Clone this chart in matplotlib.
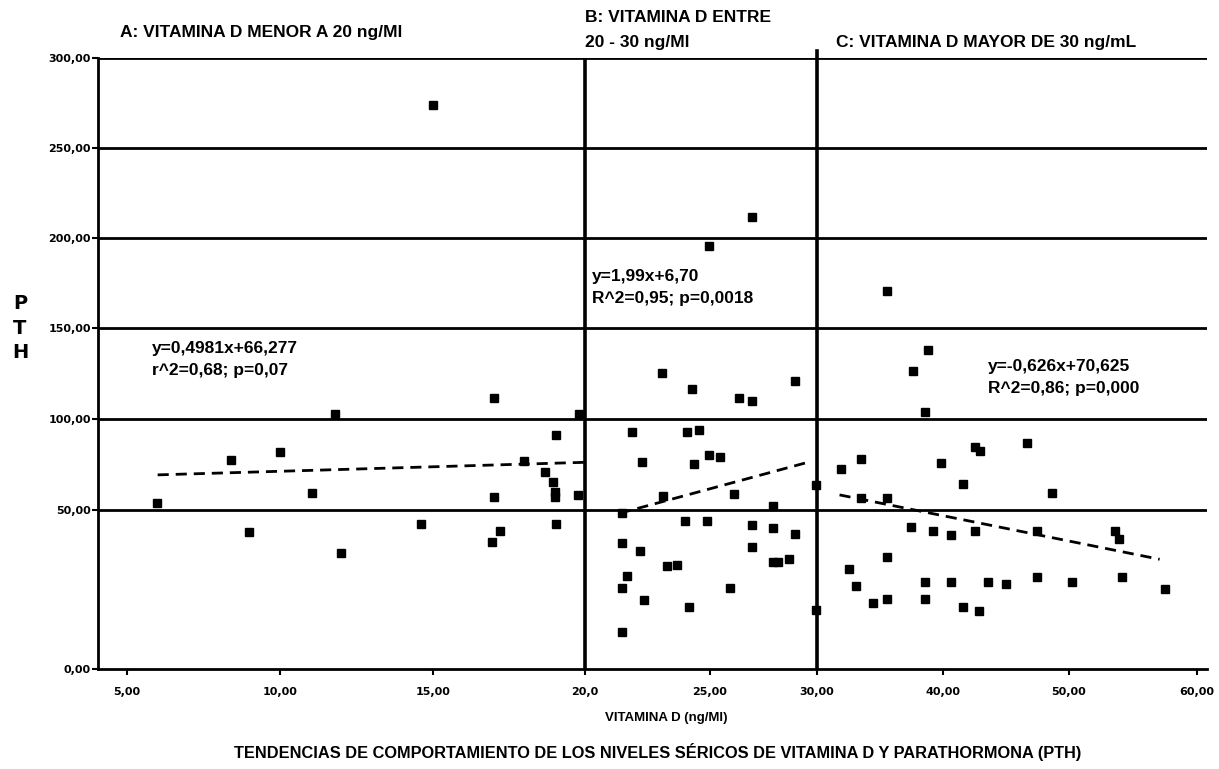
import numpy as np
import matplotlib
matplotlib.use("Agg")
import matplotlib.pyplot as plt

# ---------------- data ----------------
# Group A: vitamin D < 20 ng/ml
vitd_a = [5.98, 8.4, 10.0, 11.05, 11.8, 9.0, 12.0, 14.6, 17.0, 17.0, 17.2, 16.95,
          18.0, 19.05, 18.7, 18.95, 19.0, 19.0, 19.05, 19.76, 19.8, 15.0]
pth_a = [53.9, 77.7, 82.0, 59.4, 102.5, 43.1, 36.5, 45.6, 111.4, 57.2, 43.4, 40.0,
         77.0, 91.0, 71.0, 65.5, 60.0, 57.2, 45.6, 58.3, 102.5, 274.0]

# Group B: vitamin D 20 - 30 ng/ml
vitd_b = [23.1, 24.3, 26.36, 26.95, 28.97, 21.88, 24.08, 24.56, 22.28, 24.36, 24.96,
          25.47, 23.12, 26.12, 27.94, 21.48, 24.0, 24.88, 26.96, 27.94, 29.0, 26.96,
          21.48, 22.2, 23.28, 23.68, 27.94, 28.18, 28.69, 21.68, 21.48, 25.93, 22.36,
          24.16, 21.48, 29.95, 29.95, 24.96, 26.96]
pth_b = [125.2, 116.4, 111.4, 109.7, 120.8, 93.1, 93.1, 93.7, 76.5, 75.4, 80.4,
         79.3, 57.7, 58.8, 52.2, 49.0, 46.5, 46.5, 45.3, 44.3, 42.5, 38.4,
         39.6, 37.1, 32.4, 32.7, 33.6, 33.6, 34.6, 29.2, 25.5, 25.5, 21.7,
         19.5, 11.6, 63.8, 18.6, 195.5, 211.5]

# Group C: vitamin D > 30 ng/ml
vitd_c = [35.56, 38.8, 37.6, 38.57, 46.67, 42.54, 42.94, 33.5, 31.9, 39.84, 41.59,
          48.65, 33.5, 35.56, 37.46, 39.2, 40.63, 42.54, 47.5, 53.6, 53.9, 35.56,
          32.54, 33.1, 38.57, 40.63, 43.57, 45.0, 47.5, 50.23, 54.14, 57.5, 34.44,
          35.56, 38.57, 41.59, 42.86]
pth_c = [170.6, 138.0, 126.3, 103.6, 87.0, 84.8, 82.6, 78.2, 72.7, 76.0, 64.4,
         59.4, 56.6, 56.6, 44.7, 43.4, 42.1, 43.4, 43.4, 43.4, 40.9, 35.2,
         31.4, 26.1, 27.4, 27.4, 27.4, 26.7, 28.9, 27.4, 28.9, 25.2, 20.8,
         22.0, 22.0, 19.5, 18.2]

# Trend lines (end points)
trend_a_x = [6.0, 20.0]
trend_a_y = [69.3, 76.2]
trend_b_x = [21.4, 29.7]
trend_b_y = [49.0, 76.6]
trend_c_x = [31.8, 57.1]
trend_c_y = [58.3, 34.5]

x_ticks = [5, 10, 15, 20, 25, 30, 40, 50, 60]
x_tick_labels = ["5,00", "10,00", "15,00", "20,0", "25,00", "30,00", "40,00", "50,00", "60,00"]
y_ticks = [0, 50, 100, 150, 200, 250, 300]
y_tick_labels = ["0,00", "50,00", "100,00", "150,00", "200,00", "250,00", "300,00"]

eq_a = ["y=0,4981x+66,277", "r^2=0,68; p=0,07"]
eq_b = ["y=1,99x+6,70", "R^2=0,95; p=0,0018"]
eq_c = ["y=-0,626x+70,625", "R^2=0,86; p=0,000"]

# ---------------- axis scale knots (layout) ----------------
X_KNOT_VAL = [5, 10, 15, 20, 25, 30, 40, 50, 60]
X_KNOT_PIX = [127, 280, 433, 585, 710, 817, 943, 1069, 1197]
Y_KNOT_VAL = [0, 50, 100, 150, 200, 250, 300]
Y_KNOT_PIX = [0, 159, 250, 341, 431, 521, 611]


def piecewise(d, p):
    d = np.asarray(d, float)
    p = np.asarray(p, float)

    def f(v, a=d, b=p):
        v = np.asarray(v, float)
        out = np.interp(v, a, b)
        out = np.where(v < a[0], b[0] + (v - a[0]) * (b[1] - b[0]) / (a[1] - a[0]), out)
        out = np.where(v > a[-1], b[-1] + (v - a[-1]) * (b[-1] - b[-2]) / (a[-1] - a[-2]), out)
        return out

    def g(u):
        return f(u, p, d)
    return f, g


W, H = 1219, 769
fig = plt.figure(figsize=(W / 100, H / 100), dpi=100)
fig.patch.set_facecolor("white")

ax_left, ax_right, ax_top, ax_bottom = 98, 1207, 58, 669
ax = fig.add_axes([ax_left / W, (H - ax_bottom) / H, (ax_right - ax_left) / W, (ax_bottom - ax_top) / H])

ax.set_xscale("function", functions=piecewise(X_KNOT_VAL, X_KNOT_PIX))
ax.set_yscale("function", functions=piecewise(Y_KNOT_VAL, Y_KNOT_PIX))
ax.set_xlim(4.05, 60.8)
ax.set_ylim(0, 300)

# grid / separators
for yv in y_ticks[1:]:
    ax.axhline(yv, color="black", lw=2.0, zorder=1)
for xv in (20, 30):
    ax.axvline(xv, color="black", lw=2.6, zorder=1)
ax.plot([30, 30], [300, 304], color="black", lw=2.6, clip_on=False, zorder=1)

for sp in ("top", "right"):
    ax.spines[sp].set_visible(False)
for sp in ("left", "bottom"):
    ax.spines[sp].set_linewidth(2.0)
    ax.spines[sp].set_color("black")

ms = 6
for xs, ys in ((vitd_a, pth_a), (vitd_b, pth_b), (vitd_c, pth_c)):
    ax.plot(xs, ys, linestyle="none", marker="s", markersize=ms, color="black", zorder=3)

for tx, ty in ((trend_a_x, trend_a_y), (trend_b_x, trend_b_y), (trend_c_x, trend_c_y)):
    ax.plot(tx, ty, linestyle=(0, (4, 2.5)), color="black", lw=2.0, zorder=2)

tick_font = dict(family="DejaVu Sans", weight="bold", size=8)
ax.set_xticks(x_ticks)
ax.set_xticklabels(x_tick_labels, fontdict=tick_font)
ax.set_yticks(y_ticks)
ax.set_yticklabels(y_tick_labels, fontdict=tick_font)
ax.xaxis.set_minor_locator(matplotlib.ticker.NullLocator())
ax.yaxis.set_minor_locator(matplotlib.ticker.NullLocator())
ax.tick_params(axis="x", direction="out", length=4, width=1.5, pad=9)
ax.tick_params(axis="y", direction="out", length=4, width=1.5, pad=1)


def ftext(px, py, s, **kw):
    fig.text(px / W, 1 - py / H, s, **kw)


head = dict(family="Liberation Sans", weight="bold", size=12.5, va="center", ha="left")
ftext(120, 33, "A: VITAMINA D MENOR A 20 ng/Ml", **head)
ftext(585, 18, "B: VITAMINA D ENTRE", **head)
ftext(585, 42, "20 - 30 ng/Ml", **head)
ftext(836, 42, "C: VITAMINA D MAYOR DE 30 ng/mL", **head)

eq = dict(family="Liberation Sans", weight="bold", size=12.5, va="center", ha="left")
for (px, py), lines in (((152, 349), eq_a), ((592, 277), eq_b), ((988, 366), eq_c)):
    ftext(px, py, lines[0], **eq)
    ftext(px, py + 22, lines[1], **eq)

ftext(20, 328, "P\nT\nH", family="DejaVu Sans", weight="bold", size=14, ha="center", va="center",
      linespacing=1.35)
ftext(666, 718, "VITAMINA D (ng/Ml)", family="Liberation Sans", weight="bold", size=9.5,
      ha="center", va="center")
ftext(658, 752, "TENDENCIAS DE COMPORTAMIENTO DE LOS NIVELES SÉRICOS DE VITAMINA D Y PARATHORMONA (PTH)",
      family="Liberation Sans", weight="bold", size=11.8, ha="center", va="center")

fig.savefig("out.png", dpi=100, facecolor="white")
